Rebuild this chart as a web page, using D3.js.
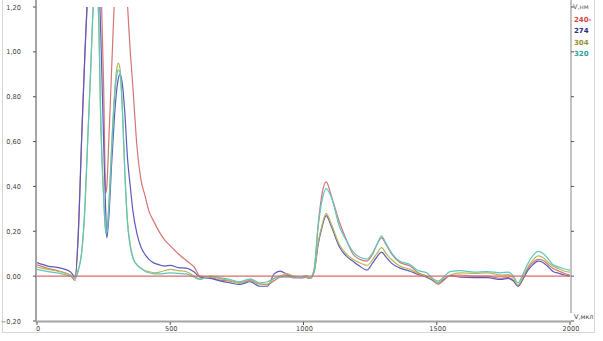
<!DOCTYPE html>
<html>
<head>
<meta charset="utf-8">
<script src="https://cdn.jsdelivr.net/npm/d3@7"></script>
<style>
body{margin:0;background:#fff;}
text{font-family:"DejaVu Sans",sans-serif;}
</style>
</head>
<body>
<script>
var volume=[0,40,85,125,143,155,168,180,190,200,
  211,220,230,240,250,258,262,270,280,290,
  300,305,311,320,330,340,350,360,375,390,
  405,420,440,460,480,500,530,560,590,612,
  650,690,725,760,800,835,865,890,912,938,
  962,990,1010,1025,1040,1055,1070,1085,1105,1135,
  1160,1185,1210,1238,1260,1275,1293,1310,1330,1360,
  1400,1430,1462,1485,1505,1525,1550,1590,1640,1690,
  1740,1768,1788,1805,1820,1840,1860,1880,1900,1915,
  1935,1960,1980,2000]
var s240=[0.05,0.035,0.022,0.005,-0.02,0.19,0.63,1.0,1.25,1.48,
  1.62,1.66,1.55,1.32,0.85,0.37,0.4,0.62,0.92,1.22,
  1.45,1.52,1.55,1.52,1.38,1.2,1.0,0.84,0.58,0.43,
  0.36,0.29,0.24,0.195,0.16,0.135,0.1,0.07,0.04,0.0,
  -0.005,-0.018,-0.022,-0.03,-0.02,-0.035,-0.038,-0.02,-0.005,0.002,
  -0.008,-0.005,-0.005,-0.01,0.03,0.23,0.37,0.42,0.355,0.24,
  0.165,0.1,0.075,0.067,0.1,0.14,0.171,0.14,0.1,0.062,
  0.045,0.015,0.0,-0.02,-0.037,-0.02,0.004,0.005,0.0,0.0,
  -0.01,-0.006,-0.02,-0.045,-0.02,0.03,0.06,0.075,0.07,0.055,
  0.035,0.022,0.012,0.004]
var s274=[0.06,0.045,0.037,0.02,-0.003,0.19,0.63,1.0,1.27,1.45,
  1.55,1.55,1.4,1.05,0.6,0.28,0.17,0.27,0.5,0.7,
  0.84,0.88,0.9,0.86,0.72,0.52,0.4,0.29,0.19,0.13,
  0.097,0.075,0.058,0.05,0.045,0.048,0.038,0.036,0.018,-0.005,
  -0.01,-0.022,-0.03,-0.037,-0.025,-0.045,-0.045,0.01,0.022,0.008,
  -0.004,-0.008,-0.006,-0.01,0.02,0.14,0.22,0.27,0.22,0.13,
  0.09,0.067,0.045,0.027,0.06,0.085,0.107,0.085,0.058,0.037,
  0.022,0.008,-0.005,-0.018,-0.03,-0.015,0.002,-0.005,-0.007,-0.007,
  -0.015,-0.01,-0.022,-0.045,-0.02,0.022,0.05,0.067,0.06,0.045,
  0.022,0.012,0.005,0.0]
var s304=[0.04,0.03,0.02,0.005,-0.008,0.03,0.11,0.3,0.6,0.88,
  1.2,1.35,1.2,0.67,0.36,0.2,0.2,0.33,0.58,0.8,
  0.93,0.95,0.93,0.76,0.45,0.24,0.14,0.085,0.05,0.035,
  0.025,0.02,0.015,0.018,0.025,0.03,0.025,0.02,0.0,-0.012,
  -0.003,-0.012,-0.02,-0.03,-0.015,-0.035,-0.035,-0.01,0.0,0.01,
  0.0,-0.006,-0.004,-0.01,0.02,0.15,0.23,0.28,0.23,0.14,
  0.1,0.075,0.06,0.048,0.075,0.1,0.127,0.1,0.074,0.046,
  0.03,0.012,0.0,-0.015,-0.03,-0.012,0.005,0.015,0.012,0.015,
  0.005,0.007,-0.01,-0.04,-0.012,0.037,0.07,0.09,0.082,0.065,
  0.045,0.032,0.022,0.018]
var s320=[0.03,0.02,0.012,0.0,-0.01,0.025,0.11,0.32,0.6,0.88,
  1.2,1.32,1.2,0.65,0.35,0.19,0.2,0.32,0.56,0.78,
  0.9,0.92,0.91,0.75,0.45,0.23,0.13,0.08,0.05,0.035,
  0.022,0.015,0.01,0.01,0.012,0.015,0.012,0.01,-0.005,-0.015,
  0.0,-0.008,-0.015,-0.025,-0.012,-0.03,-0.025,-0.01,-0.004,-0.004,
  -0.005,-0.004,0.002,-0.008,0.03,0.22,0.34,0.39,0.35,0.22,
  0.16,0.11,0.085,0.076,0.105,0.14,0.178,0.145,0.105,0.067,
  0.052,0.025,0.015,-0.01,-0.022,-0.005,0.02,0.025,0.018,0.02,
  0.015,0.018,0.0,-0.03,0.0,0.052,0.09,0.11,0.1,0.082,
  0.052,0.04,0.032,0.027]
var names=["240","274","304","320"]
var yTicks=[-0.2,0,0.2,0.4,0.6,0.8,1.0,1.2]
var xTicks=[0,500,1000,1500,2000]

var lineColor=["#d67474","#5a5abe","#b8b856","#5cc6c0"]
var textColor=["#d04848","#2a2a80","#929232","#2aa29c"]

var width=603,height=341
var svg=d3.select("body").append("svg")
  .attr("width",width).attr("height",height)

// window frame
svg.append("rect").attr("x",2.5).attr("y",-2).attr("width",592).attr("height",334.5)
  .attr("fill","none").attr("stroke","#d6d6d6")

var x=d3.scaleLinear().domain([0,2000]).range([37,570])
var y=d3.scaleLinear().domain([-0.2,1.2]).range([321,7])

svg.append("clipPath").attr("id","plot")
  .append("rect").attr("x",37).attr("y",y(1.2)).attr("width",533).attr("height",y(-0.2)-y(1.2))

var series=[s240,s274,s304,s320]
var line=d3.line()
  .x(function(d){return x(d[0])})
  .y(function(d){return y(d[1])})
  .curve(d3.curveMonotoneX)

var g=svg.append("g").attr("clip-path","url(#plot)")
series.forEach(function(s,i){
  var pts=volume.map(function(v,j){return [v,s[j]]})
  g.append("path").attr("d",line(pts))
    .attr("fill","none").attr("stroke",lineColor[i]).attr("stroke-width",1.2)
})
// zero line
g.append("line").attr("x1",x(0)).attr("x2",x(2000)).attr("y1",y(0)).attr("y2",y(0))
  .attr("stroke","#e06868").attr("stroke-width",1.4)

// left axis
svg.append("line").attr("x1",36).attr("x2",36).attr("y1",0).attr("y2",y(-0.2))
  .attr("stroke","#a4a4a4").attr("stroke-width",2)
svg.selectAll(".yt").data(yTicks).enter().append("line")
  .attr("x1",33).attr("x2",36).attr("y1",function(d){return y(d)}).attr("y2",function(d){return y(d)})
  .attr("stroke","#555")
svg.selectAll(".yl").data(yTicks).enter().append("text")
  .attr("x",21).attr("y",function(d){return y(d)+2.5})
  .attr("text-anchor","end").attr("font-size",6.6).attr("fill","#444")
  .text(function(d){return d3.format(".2f")(d).replace(".",",")})

// bottom axis
svg.append("line").attr("x1",35).attr("x2",571).attr("y1",y(-0.2)+0.5).attr("y2",y(-0.2)+0.5)
  .attr("stroke","#a4a4a4").attr("stroke-width",2)
svg.selectAll(".xt").data(xTicks).enter().append("line")
  .attr("x1",function(d){return x(d)}).attr("x2",function(d){return x(d)})
  .attr("y1",y(-0.2)+1).attr("y2",y(-0.2)+4).attr("stroke","#555")
svg.selectAll(".xl").data(xTicks).enter().append("text")
  .attr("x",function(d){return x(d)+1}).attr("y",331)
  .attr("text-anchor","middle").attr("font-size",6.6).attr("fill","#444")
  .text(function(d){return d})

// right axis
svg.append("line").attr("x1",571).attr("x2",571).attr("y1",0).attr("y2",313)
  .attr("stroke","#9a9a9a").attr("stroke-width",1.2)
svg.selectAll(".rt").data(yTicks).enter().append("line")
  .attr("x1",571).attr("x2",574).attr("y1",function(d){return y(d)}).attr("y2",function(d){return y(d)})
  .attr("stroke","#555")
svg.append("text").attr("x",573).attr("y",9).attr("font-size",6.5).attr("fill","#555").text("V,нм")
svg.append("text").attr("x",574).attr("y",319).attr("font-size",6.5).attr("fill","#444").text("V,мкл")

svg.selectAll(".lg").data(names).enter().append("text")
  .attr("x",574).attr("y",function(d,i){return 22+i*11.3})
  .attr("font-size",7).attr("font-weight","bold")
  .attr("fill",function(d,i){return textColor[i]})
  .text(function(d,i){return i==0 ? d+"-" : d})
</script>
</body>
</html>
